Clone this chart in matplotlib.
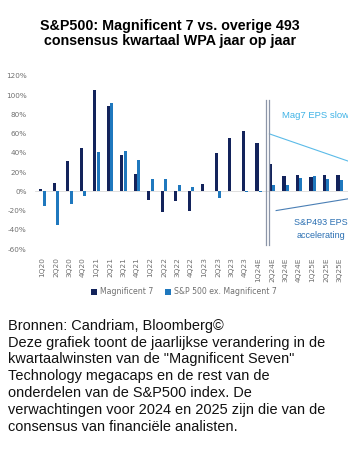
import matplotlib
matplotlib.use("Agg")
import matplotlib.pyplot as plt
import numpy as np

categories = ["1Q20", "2Q20", "3Q20", "4Q20", "1Q21", "2Q21", "3Q21", "4Q21",
              "1Q22", "2Q22", "3Q22", "4Q22", "1Q23", "2Q23", "3Q23", "4Q23",
              "1Q24E", "2Q24E", "3Q24E", "4Q24E", "1Q25E", "2Q25E", "3Q25E"]
mag7 = [2.4, 8.7, 31.5, 44.6, 105.5, 89, 38, 17.6,
        -9.3, -21.8, -10, -20, 8, 40, 55.7, 63,
        50.5, 28, 16, 16.6, 15.2, 17, 17.3]
sp493 = [-14.9, -35, -13, -5, 41, 92, 42, 33,
         12.8, 12.8, 6.8, 4, 0.8, -7, 0.5, -0.8,
         -0.8, 7, 7, 13.8, 15.6, 13, 11.8]
yticks = [-60, -40, -20, 0, 20, 40, 60, 80, 100, 120]

title = "S&P500: Magnificent 7 vs. overige 493\nconsensus kwartaal WPA jaar op jaar"
body = ["Bronnen: Candriam, Bloomberg©",
        "Deze grafiek toont de jaarlijkse verandering in de",
        "kwartaalwinsten van de \"Magnificent Seven\"",
        "Technology megacaps en de rest van de",
        "onderdelen van de S&P500 index. De",
        "verwachtingen voor 2024 en 2025 zijn die van de",
        "consensus van financiële analisten."]

dark = "#13235b"
light = "#1f78be"
grey = "#707070"

W, H = 357, 450
fig = plt.figure(figsize=(W/100, H/100), dpi=100)
ax = fig.add_axes([35/W, 1-249/H, (348-35)/W, (249-76)/H])

x = np.arange(len(categories))
bw = 0.23
ax.bar(x - 0.12, mag7, width=bw, color=dark, label="Magnificent 7", zorder=3)
ax.bar(x + 0.13, sp493, width=bw, color=light, label="S&P 500 ex. Magnificent 7", zorder=3)
ax.axhline(0, color="#d9d9d9", lw=0.6, zorder=1)

ax.set_xlim(-0.55, 22.62)
ax.set_ylim(-60, 120)
ax.set_yticks(yticks)
ax.set_yticklabels([f"{v}%" for v in yticks], fontsize=5.2, color=grey)
ax.set_xticks(x)
ax.set_xticklabels(categories, rotation=90, fontsize=5.3, color=grey)
ax.tick_params(length=0, pad=6)
ax.tick_params(axis="y", pad=6)
for s in ax.spines.values():
    s.set_visible(False)

# separator
for xv in (16.53, 16.74):
    ax.plot([xv, xv], [-56, 95], color="#8c96a8", lw=0.9, zorder=4)

# annotations
ax.plot([16.8, 22.62], [59.8, 31.5], color="#5bbbe8", lw=0.8, clip_on=True)
ax.plot([17.3, 22.62], [-20, -7.8], color="#4a7fb5", lw=0.8, clip_on=True)
ax.text(17.75, 79, "Mag7 EPS slowing", color="#3fb3e6", fontsize=6.8,
        family="Liberation Sans", va="center", ha="left", clip_on=True)
ax.text(18.6, -32, "S&P493 EPS growth", color="#2a6fb2", fontsize=6.5,
        family="Liberation Sans", va="center", ha="left", clip_on=True)
ax.text(18.8, -46, "accelerating", color="#2a6fb2", fontsize=6.5,
        family="Liberation Sans", va="center", ha="left", clip_on=True)

leg = fig.legend(loc="center", bbox_to_anchor=(184/W, 1-292/H), ncol=2, frameon=False,
                 fontsize=5.6, handlelength=0.7, handleheight=0.7, handletextpad=0.4,
                 columnspacing=1.6)
for t in leg.get_texts():
    t.set_color(grey)

fig.text(170/W, 1-33.5/H, title, ha="center", va="center", fontsize=10.3,
         fontweight="bold", family="Liberation Sans", linespacing=1.12)

# body text: size chosen so that the widest line spans the measured width
renderer = fig.canvas.get_renderer()
probe = fig.text(0, 0, body[1], fontsize=10, family="Liberation Sans")
wpx = probe.get_window_extent(renderer).width
probe.remove()
body_size = 10 * 317.0 / wpx

y0 = 325.7
for i, line in enumerate(body):
    fig.text(8/W, 1-(y0 + i*16.9)/H, line, ha="left", va="center", fontsize=body_size,
             family="Liberation Sans", color="#111111")

fig.savefig("out.png", dpi=100)
